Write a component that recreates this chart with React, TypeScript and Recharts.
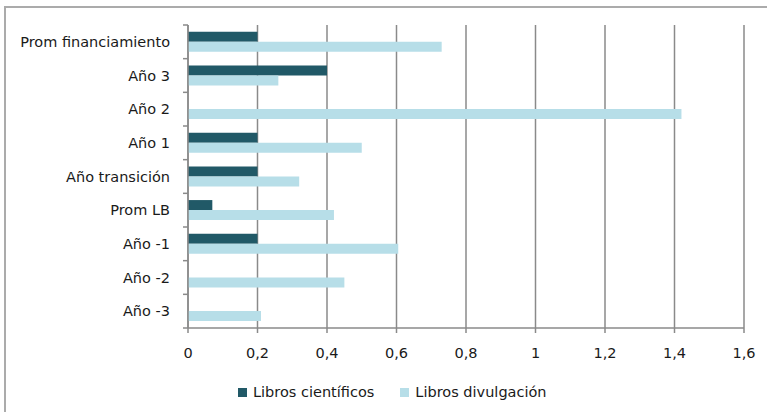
import React from 'react';
import {
  BarChart,
  Bar,
  XAxis,
  YAxis,
  CartesianGrid,
  Legend,
} from 'recharts';

const categories = [
  'Prom financiamiento',
  'Año 3',
  'Año 2',
  'Año 1',
  'Año transición',
  'Prom LB',
  'Año -1',
  'Año -2',
  'Año -3',
];
const cientificos = [0.2, 0.4, 0, 0.2, 0.2, 0.07, 0.2, 0, 0];
const divulgacion = [0.73, 0.26, 1.42, 0.5, 0.32, 0.42, 0.605, 0.45, 0.21];
const xTicks = [0, 0.2, 0.4, 0.6, 0.8, 1, 1.2, 1.4, 1.6];

const data = categories.map((name, i) => ({
  name,
  cientificos: cientificos[i],
  divulgacion: divulgacion[i],
}));

const FONT = '"DejaVu Sans", sans-serif';
const GRID = '#8a8a8a';
const DARK = '#215967';
const LIGHT = '#b7dee8';

const fmt = (v: number) => String(v).replace('.', ',');

// excel puts the category ticks between the bands, not at their centre
function CategoryTick(props: any) {
  const { x, y, payload, index } = props;
  const band = 303 / categories.length;
  const axisX = x + 18;
  return (
    <g>
      <line x1={axisX - 5} x2={axisX} y1={y - band / 2} y2={y - band / 2} stroke={GRID} strokeWidth={1.5} />
      {index === categories.length - 1 && (
        <line x1={axisX - 5} x2={axisX} y1={y + band / 2} y2={y + band / 2} stroke={GRID} strokeWidth={1.5} />
      )}
      <text x={x} y={y} dy="0.35em" textAnchor="end" fontFamily={FONT} fontSize={14.5} fill="#1a1a1a">
        {payload.value}
      </text>
    </g>
  );
}

function LegendContent(props: any) {
  const items = props.payload || [];
  return (
    <div style={{ display: 'flex', justifyContent: 'flex-start', paddingLeft: 238, height: 20, alignItems: 'center' }}>
      {items.map((it: any, i: number) => (
        <div key={i} style={{ display: 'flex', alignItems: 'center', marginRight: 26 }}>
          <span style={{ width: 9, height: 9, background: it.color, display: 'inline-block', marginRight: 6 }} />
          <span style={{ fontFamily: FONT, fontSize: 14.5, color: '#1a1a1a' }}>{it.value}</span>
        </div>
      ))}
    </div>
  );
}

export default function App() {
  return (
    <div style={{ position: 'absolute', left: 0, top: 0, width: 767, height: 412, overflow: 'hidden', background: '#fff' }}>
      <div
        style={{
          position: 'absolute',
          left: 4,
          top: 6,
          width: 800,
          height: 450,
          border: '2px solid #ababab',
        }}
      />
      <BarChart
        width={767}
        height={412}
        data={data}
        layout="vertical"
        margin={{ top: 25, right: 23, left: 8, bottom: 0 }}
        barCategoryGap="20%"
        barGap={0}
      >
        <CartesianGrid horizontal={false} stroke={GRID} strokeWidth={1.5} />
        <XAxis
          type="number"
          domain={[0, 1.6]}
          ticks={xTicks}
          tickFormatter={fmt}
          height={64}
          tickSize={5}
          tickMargin={15}
          stroke={GRID}
          strokeWidth={1.5}
          tick={{ fontFamily: FONT, fontSize: 14.5, fill: '#1a1a1a' }}
        />
        <YAxis
          type="category"
          dataKey="name"
          width={180}
          tickLine={false}
          tickSize={0}
          tickMargin={18}
          stroke={GRID}
          strokeWidth={1.5}
          tick={<CategoryTick />}
          interval={0}
        />
        <Legend
          verticalAlign="bottom"
          content={<LegendContent />}
          wrapperStyle={{ top: 382, bottom: 'auto', left: 0, width: 767 }}
        />
        <Bar dataKey="cientificos" name="Libros científicos" fill={DARK} isAnimationActive={false} />
        <Bar dataKey="divulgacion" name="Libros divulgación" fill={LIGHT} isAnimationActive={false} />
      </BarChart>
    </div>
  );
}
